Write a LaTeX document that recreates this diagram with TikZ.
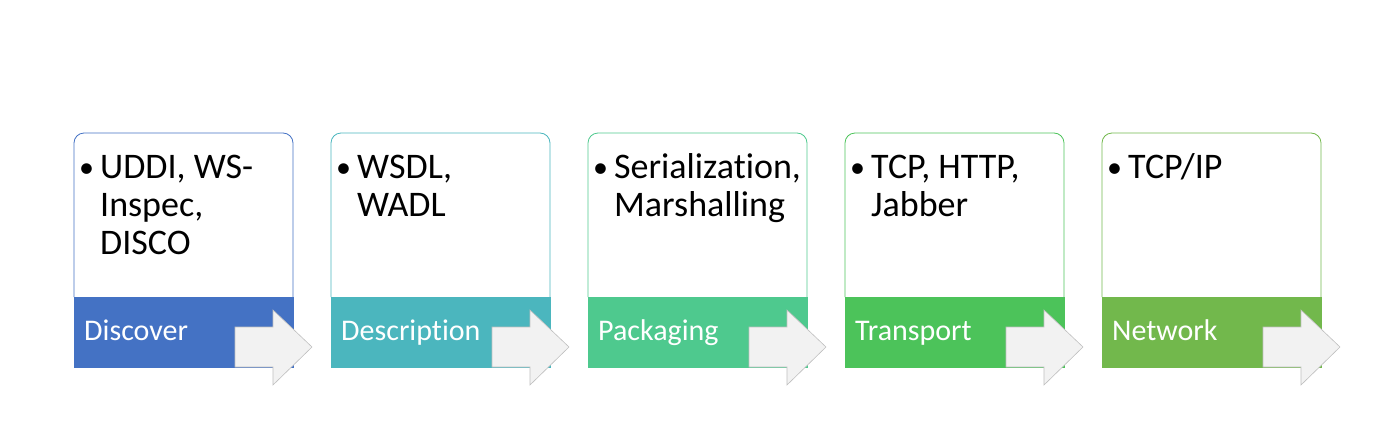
\documentclass[tikz,border=0pt]{standalone}
\usepackage{fontspec}
\setmainfont[Ligatures=NoCommon]{Carlito}
\definecolor{cA}{HTML}{4472C4}
\definecolor{cB}{HTML}{4BB6BE}
\definecolor{cC}{HTML}{4EC98E}
\definecolor{cD}{HTML}{4CC35A}
\definecolor{cE}{HTML}{72B84C}
\definecolor{arrowfill}{HTML}{F2F2F2}
\definecolor{arrowedge}{HTML}{BFBFBF}
\tikzset{
  boxline/.style={draw=#1, line width=0.8pt, rounded corners=10pt},
  band/.style={fill=#1, draw=#1, line width=0.8pt},
  bandlabel/.style={anchor=base west, inner sep=0pt, text=white, font=\fontsize{30}{36}\selectfont},
  bullettext/.style={anchor=base west, inner sep=0pt, align=left, font=\fontsize{36}{38}\selectfont},
  bulletdot/.style={anchor=base west, inner sep=0pt, font=\fontsize{30}{38}\selectfont},
  flowarrow/.style={fill=arrowfill, draw=arrowedge, line width=0.6pt},
}
\begin{document}
\begin{tikzpicture}[x=1pt, y=-1pt]
\useasboundingbox (0,0) rectangle (1379,434);
\foreach \i/\col/\lab/\n/\txt in {
  0/cA/Discover/3/{UDDI, WS-\\Inspec,\\DISCO},
  1/cB/Description/2/{WSDL,\\WADL},
  2/cC/Packaging/2/{Serialization,\\Marshalling},
  3/cD/Transport/2/{TCP, HTTP,\\Jabber},
  4/cE/Network/1/{TCP/IP}}{
  \pgfmathsetmacro{\x}{74+257*\i}
  \pgfmathsetmacro{\yb}{178+38*(\n-1)}
  \coordinate (tl\i) at (\x,133);
  \draw[boxline=\col] (\x,297) |- (\x+219,133) -- (\x+219,297);
  \path[band=\col] (\x,297) rectangle (\x+219,367);
  \node[bulletdot] (dot\i) at (\x+5,177) {•};
  \node[bullettext] (txt\i) at (\x+26,\yb) {\txt};
  \node[bandlabel] (lab\i) at (\x+10,340) {\lab};
  \draw[flowarrow] (\x+161,327) -- (\x+199,327) -- (\x+199,310) -- (\x+238,347)
     -- (\x+199,385) -- (\x+199,367) -- (\x+161,367) -- cycle;
}
\end{tikzpicture}
\end{document}
